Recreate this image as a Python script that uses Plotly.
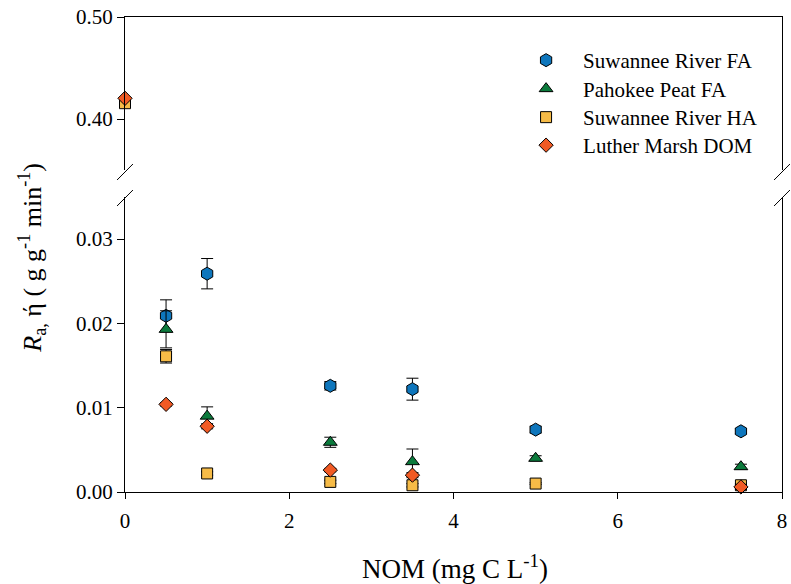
import plotly.graph_objects as go

# ---- data ----
nom = [0, 0.5, 1, 2.5, 3.5, 5, 7.5]
series_names = ["Suwannee River FA", "Pahokee Peat FA", "Suwannee River HA", "Luther Marsh DOM"]
srfa = [None, 0.0209, 0.0259, 0.0126, 0.0122, 0.0074, 0.0072]
srfa_err = [0, 0.0019, 0.0018, 0.0005, 0.0013, 0.0004, 0.0003]
ppfa = [None, 0.0193, 0.0090, 0.0059, 0.0036, 0.0040, 0.0030]
ppfa_err = [0, 0.0022, 0.0011, 0.0006, 0.0015, 0.0003, 0.0003]
srha = [0.4155, 0.0161, 0.0022, 0.0012, 0.0008, 0.0010, 0.0008]
srha_err = [0, 0.0008, 0.0002, 0.0002, 0.0002, 0.0001, 0.0002]
lmdom = [0.4203, 0.0104, 0.0078, 0.0026, 0.0020, None, 0.0006]
lmdom_err = [0, 0.0002, 0.0003, 0.0002, 0.0003, 0, 0.0003]

x_ticks = [0, 2, 4, 6, 8]
y_low_ticks = [0.00, 0.01, 0.02, 0.03]
y_high_ticks = [0.40, 0.50]

values = [srfa, ppfa, srha, lmdom]
errors = [srfa_err, ppfa_err, srha_err, lmdom_err]
colors = ["#0E76BC", "#0B7A3C", "#F6BB47", "#F15A24"]
symbols = ["hexagon", "triangle-up", "square", "diamond"]
sizes = [13, 12, 11, 11]

FONT = "Liberation Serif"

# pixel geometry helpers
L, R, T, B = 125, 4, 17, 92
W, H = 791, 584
PW, PH = W - L - R, H - T - B
def px(p):
    return (p - L) / PW
def py(q):
    return (H - B - q) / PH

low_top_px, high_bot_px = 197, 170
low_dom = [0, py(low_top_px)]
high_dom = [py(high_bot_px), 1]

legend_ids = ["legend", "legend2", "legend3", "legend4"]
legend_rows_px = [60, 88.5, 117, 145]

fig = go.Figure()

def split(vals, errs, lo):
    ys, es = [], []
    for v, e in zip(vals, errs):
        if v is None:
            ys.append(None); es.append(0)
        elif (v < 0.1) == lo:
            ys.append(v); es.append(e)
        else:
            ys.append(None); es.append(0)
    return ys, es

for i in range(4):
    for lo in (True, False):
        ys, es = split(values[i], errors[i], lo)
        fig.add_trace(go.Scatter(
            x=nom, y=ys, mode="markers", name=series_names[i],
            xaxis="x" if lo else "x2", yaxis="y" if lo else "y2",
            showlegend=lo, legendgroup=series_names[i], legend=legend_ids[i],
            cliponaxis=False,
            marker=dict(symbol=symbols[i], color=colors[i], size=sizes[i],
                        line=dict(color="black", width=1)),
            error_y=dict(type="data", array=es, visible=True, color="black",
                         thickness=1, width=6),
        ))

axis_common = dict(showgrid=False, zeroline=False, linecolor="black", linewidth=1,
                   tickfont=dict(family=FONT, size=21, color="black"))

fig.update_layout(
    width=W, height=H, margin=dict(l=L, r=R, t=T, b=B),
    plot_bgcolor="white", paper_bgcolor="white",
    font=dict(family=FONT, color="black", size=21),
    xaxis=dict(domain=[0, 1], range=[0, 8], anchor="y", showline=True,
               tickvals=x_ticks, ticks="outside", ticklen=6, tickcolor="black",
               ticklabeloverflow="allow", ticklabelstandoff=4, **axis_common),
    xaxis2=dict(domain=[0, 1], range=[0, 8], anchor="y2", matches="x", side="top",
                showline=True, showticklabels=False, ticks="", **axis_common),
    yaxis=dict(domain=low_dom, range=[0, 0.035], anchor="x", showline=True, mirror=True,
               tickvals=y_low_ticks, tickformat=".2f", ticks="outside", ticklen=7,
               tickcolor="black", **axis_common),
    yaxis2=dict(domain=high_dom, range=[0.35, 0.50], anchor="x2", showline=True, mirror=True,
                tickvals=y_high_ticks, tickformat=".2f", ticks="outside", ticklen=7,
                tickcolor="black", **axis_common),
)

for lid, row in zip(legend_ids, legend_rows_px):
    fig.update_layout({lid: dict(x=px(512), y=py(row - 20), xanchor="left", yanchor="top",
                                 bgcolor="rgba(0,0,0,0)", itemwidth=64,
                                 font=dict(family=FONT, size=21, color="black"))})

# axis titles
fig.add_annotation(text="NOM (mg C L<sup>-1</sup>)", xref="paper", yref="paper",
                   x=px(458), y=py(567), showarrow=False, xanchor="center", yanchor="middle",
                   font=dict(family=FONT, size=27, color="black"))
fig.add_annotation(text="<i>R</i><sub>a,</sub> ή ( g g<sup>-1</sup> min<sup>-1</sup>)",
                   xref="paper", yref="paper", x=px(31), y=py(258), textangle=-90,
                   showarrow=False, xanchor="center", yanchor="middle",
                   font=dict(family=FONT, size=26, color="black"))

# axis break marks
for cx in (L, W - R):
    for cy in (high_bot_px + 2, low_top_px + 1):
        fig.add_shape(type="line", xref="paper", yref="paper",
                      x0=px(cx - 8), y0=py(cy + 8), x1=px(cx + 8), y1=py(cy - 8),
                      line=dict(color="black", width=1))

fig.write_html("out.html")
